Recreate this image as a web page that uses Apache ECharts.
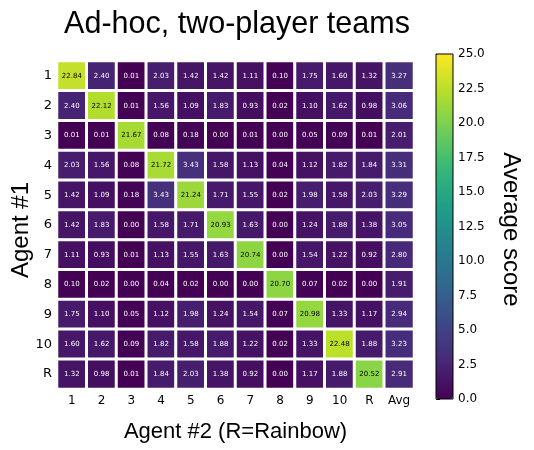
<!DOCTYPE html>
<html lang="en">
<head>
    <meta charset="UTF-8">
    <script src="https://cdn.jsdelivr.net/npm/echarts@6/dist/echarts.min.js"></script>
    <title>AdHoc_Heatmap</title>
</head>
<body style="margin:0;">
    <div id="heat" style="width:534px;height:450px;"></div>
    <script type="text/javascript">
        // columns: agent #2, rows: agent #1
        var colLabels = ['1', '2', '3', '4', '5', '6', '7', '8', '9', '10', 'R', 'Avg'];
        var rowLabels = ['1', '2', '3', '4', '5', '6', '7', '8', '9', '10', 'R'];
        var row1  = [22.84, 2.40, 0.01, 2.03, 1.42, 1.42, 1.11, 0.10, 1.75, 1.60, 1.32, 3.27];
        var row2  = [2.40, 22.12, 0.01, 1.56, 1.09, 1.83, 0.93, 0.02, 1.10, 1.62, 0.98, 3.06];
        var row3  = [0.01, 0.01, 21.67, 0.08, 0.18, 0.00, 0.01, 0.00, 0.05, 0.09, 0.01, 2.01];
        var row4  = [2.03, 1.56, 0.08, 21.72, 3.43, 1.58, 1.13, 0.04, 1.12, 1.82, 1.84, 3.31];
        var row5  = [1.42, 1.09, 0.18, 3.43, 21.24, 1.71, 1.55, 0.02, 1.98, 1.58, 2.03, 3.29];
        var row6  = [1.42, 1.83, 0.00, 1.58, 1.71, 20.93, 1.63, 0.00, 1.24, 1.88, 1.38, 3.05];
        var row7  = [1.11, 0.93, 0.01, 1.13, 1.55, 1.63, 20.74, 0.00, 1.54, 1.22, 0.92, 2.80];
        var row8  = [0.10, 0.02, 0.00, 0.04, 0.02, 0.00, 0.00, 20.70, 0.07, 0.02, 0.00, 1.91];
        var row9  = [1.75, 1.10, 0.05, 1.12, 1.98, 1.24, 1.54, 0.07, 20.98, 1.33, 1.17, 2.94];
        var row10 = [1.60, 1.62, 0.09, 1.82, 1.58, 1.88, 1.22, 0.02, 1.33, 22.48, 1.88, 3.23];
        var rowR  = [1.32, 0.98, 0.01, 1.84, 2.03, 1.38, 0.92, 0.00, 1.17, 1.88, 20.52, 2.91];
        var rows = [row1, row2, row3, row4, row5, row6, row7, row8, row9, row10, rowR];

        var viridis = ['#440154', '#482878', '#3e4989', '#31688e', '#26828e',
                       '#1f9e89', '#35b779', '#6ece58', '#b5de2b', '#fde725'];

        var cells = [];
        rows.forEach(function (r, i) {
            r.forEach(function (v, j) {
                cells.push({
                    value: [j, i, v],
                    label: { color: v > 12.5 ? '#000' : '#fff' }
                });
            });
        });

        var chart = echarts.init(document.getElementById('heat'));
        var tickFont = { fontFamily: 'DejaVu Sans', fontSize: 12, color: '#000' };
        var nameFont = { fontFamily: 'Liberation Sans', fontSize: 23, color: '#000' };
        var option = {
            backgroundColor: '#fff',
            animation: false,
            title: {
                text: 'Ad-hoc, two-player teams',
                left: 232, top: 4, textAlign: 'center',
                textStyle: { fontFamily: 'Liberation Sans', fontSize: 30.5, fontWeight: 'normal', color: '#000' }
            },
            grid: [
                { left: 57, top: 61, width: 357, height: 328, outerBoundsMode: 'none', containLabel: false },
                { left: 436, top: 54, width: 17, height: 345, show: true, z: 10, outerBoundsMode: 'none',
                  borderColor: '#000', borderWidth: 1, backgroundColor: 'transparent' }
            ],
            xAxis: [
                {
                    type: 'category', data: colLabels, gridIndex: 0,
                    name: 'Agent #2 (R=Rainbow)', nameLocation: 'middle', nameGap: 32, nameMoveOverlap: false,
                    nameTextStyle: Object.assign({}, nameFont, { fontSize: 22 }),
                    axisLine: { show: false }, splitLine: { show: false },
                    axisTick: { alignWithLabel: true, length: 3, lineStyle: { color: '#000' } },
                    axisLabel: Object.assign({ margin: 6 }, tickFont)
                },
                { type: 'value', gridIndex: 1, show: false, min: 0, max: 1 }
            ],
            yAxis: [
                {
                    type: 'category', data: rowLabels, gridIndex: 0, inverse: true,
                    name: 'Agent #1', nameLocation: 'middle', nameGap: 24, nameRotate: 90, nameMoveOverlap: false,
                    nameTextStyle: Object.assign({}, nameFont, { fontSize: 24, padding: [0, 10, 0, 0] }),
                    axisLine: { show: false }, splitLine: { show: false },
                    axisTick: { alignWithLabel: true, length: 3, lineStyle: { color: '#000' } },
                    axisLabel: Object.assign({ margin: 5 }, tickFont, { fontSize: 13 })
                },
                {
                    type: 'value', gridIndex: 1, position: 'right', min: 0, max: 25, interval: 2.5,
                    name: 'Average score', nameLocation: 'middle', nameGap: 46, nameRotate: -90, nameMoveOverlap: false,
                    nameTextStyle: Object.assign({}, nameFont, { fontSize: 24, padding: [0, 0, 0, 6] }),
                    axisLine: { show: false },
                    splitLine: { show: false },
                    axisTick: { show: true, length: 4, lineStyle: { color: '#000' } },
                    axisLabel: Object.assign({ margin: 5, formatter: function (v) { return v.toFixed(1); } }, tickFont)
                },
                {
                    // tick marks on the right edge of the heatmap
                    type: 'category', data: rowLabels, gridIndex: 0, inverse: true, position: 'right',
                    axisLine: { show: false }, splitLine: { show: false }, axisLabel: { show: false },
                    axisTick: { alignWithLabel: true, length: 3, lineStyle: { color: '#000' } }
                }
            ],
            visualMap: {
                type: 'continuous',
                min: 0, max: 25,
                seriesIndex: 0,
                calculable: false,
                showLabel: false,
                text: null,
                left: 436, top: 54,
                padding: 0,
                itemWidth: 17, itemHeight: 345,
                inRange: { color: viridis }
            },
            series: [{
                type: 'heatmap',
                xAxisIndex: 0, yAxisIndex: 0,
                data: cells,
                label: {
                    show: true, fontFamily: 'DejaVu Sans', fontSize: 7,
                    formatter: function (p) { return p.value[2].toFixed(2); }
                },
                itemStyle: { borderColor: '#fff', borderWidth: 3 }
            }]
        };
        chart.setOption(option);
    </script>
</body>
</html>
